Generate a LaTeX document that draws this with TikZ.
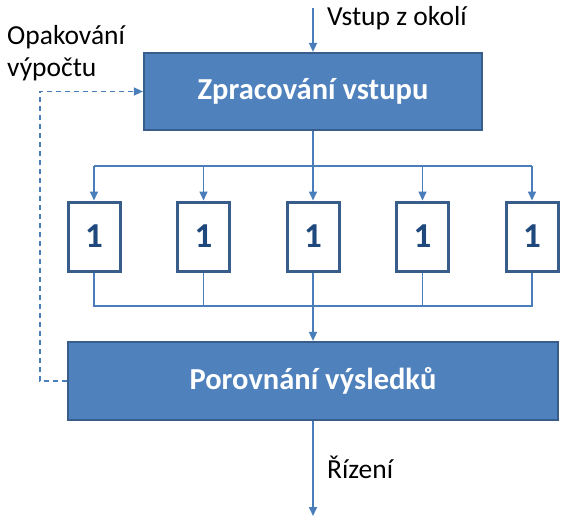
\documentclass[tikz,border=0pt]{standalone}
\usepackage{fontspec}
\setmainfont{Carlito}
\usepackage{tikz}
\usetikzlibrary{positioning,arrows.meta}
\definecolor{boxfill}{HTML}{4F81BD}
\definecolor{boxline}{HTML}{385D8A}
\definecolor{wire}{HTML}{4A7EBB}
\definecolor{digit}{HTML}{1F497D}
\begin{document}
\begin{tikzpicture}[x=1pt,y=-1pt,node distance=109.5pt,
    bigbox/.style={draw=boxline,line width=2.2pt,fill=boxfill,text=white,inner sep=0pt,
      font=\fontsize{30.5}{36}\selectfont\bfseries},
    unit/.style={draw=boxline,line width=3pt,fill=white,text=digit,inner sep=0pt,
      minimum width=52pt,minimum height=69pt,font=\fontsize{35}{40}\selectfont\bfseries},
    lbl/.style={inner sep=0pt,font=\fontsize{27.5}{32}\selectfont},
    wireline/.style={draw=wire,line width=1.6pt},
    tip/.style={wireline,-{Triangle[length=9pt,width=8pt]}}]
    \useasboundingbox (0,0) rectangle (568,522);
    \node[bigbox,minimum width=338pt,minimum height=77pt] (proc) at (313,91.5) {Zpracování vstupu};
    \node[unit] (u1) at (94,236.5) {1};
    \node[unit] (u2) [right of=u1] {1};
    \node[unit] (u3) [right of=u2] {1};
    \node[unit] (u4) [right of=u3] {1};
    \node[unit] (u5) [right of=u4] {1};
    \node[bigbox,minimum width=490pt,minimum height=78pt] (cmp) at (313,381) {Porovnání výsledků};

    \node[lbl,anchor=base west] (inlbl) at (327,25) {Vstup z okolí};
    \node[lbl,anchor=base west] (outlbl) at (327,478) {Řízení};
    \node[lbl,anchor=north west,align=left] (fblbl) at (7,25) {Opakování\\výpočtu};

    \coordinate (src) at (313,8);
    \coordinate (fork) at (313,166);
    \coordinate (join) at (313,306);
    \coordinate (out) at (313,516);

    \path[tip] (src) -- (proc.north);
    \path[wireline] (proc.south) -- (fork);
    \path[wireline] (fork -| u1) -- (fork -| u5);
    \foreach \i in {1,...,5}
      \path[tip] (fork -| u\i) -- (u\i.north);
    \path[wireline] (u1.south) |- (join -| u5) -- (u5.south);
    \foreach \i in {2,3,4}
      \path[wireline] (u\i.south) -- (join -| u\i);
    \path[tip] (join) -- (cmp.north);
    \path[tip] (cmp.south) -- (out);
    \path[tip,dash pattern=on 5pt off 4pt] (cmp.west) -- ++(-27,0) |- (proc.west);
\end{tikzpicture}
\end{document}
